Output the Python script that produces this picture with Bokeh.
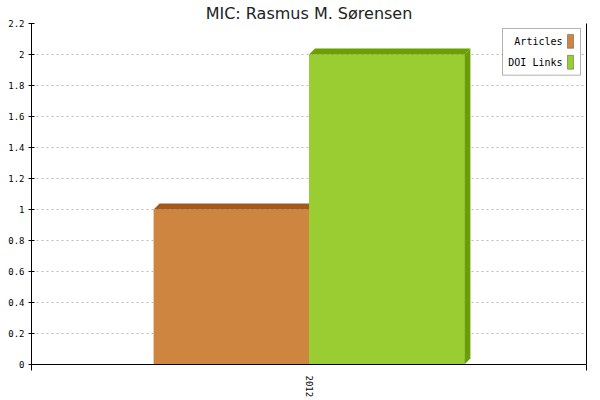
from bokeh.plotting import figure
from bokeh.models import FixedTicker, LinearAxis, Range1d, Label, BoxAnnotation
from bokeh.embed import file_html
from bokeh.resources import INLINE

# ---- data ----
years = ["2012"]
series_names = ["Articles", "DOI Links"]
articles = [1]
doi_links = [2]
y_ticks = [0, 0.2, 0.4, 0.6, 0.8, 1, 1.2, 1.4, 1.6, 1.8, 2, 2.2]
y_tick_labels = ["0", "0.2", "0.4", "0.6", "0.8", "1", "1.2", "1.4", "1.6", "1.8", "2", "2.2"]

# ---- style ----
front = ["#CD853F", "#9ACD32"]
dark = ["#A2591A", "#6B9E00"]
MONO = "DejaVu Sans Mono"
bar_w = 0.28
Y_MAX = 2.2
W, H = 600, 400
BL, BR, BB = 31, 14, 35

p = figure(width=W, height=H, output_backend="svg", toolbar_location=None,
           x_range=Range1d(0, len(years)), y_range=Range1d(0, Y_MAX),
           min_border_left=BL, min_border_right=BR, min_border_bottom=BB, min_border_top=0,
           title="MIC: Rasmus M. Sørensen")
p.title.text_font = "DejaVu Sans"
p.title.text_font_size = "16px"
p.title.text_font_style = "normal"
p.title.align = "center"
p.title.text_color = "#222222"
p.title.standoff = 2
p.outline_line_color = None
p.xgrid.visible = False
p.ygrid.grid_line_color = "#bbbbbb"
p.ygrid.grid_line_dash = "2 3"
p.ygrid.ticker = FixedTicker(ticks=y_ticks)

# frame pixel sizes for the 3D depth offset (6px)
frame_w = W - BL - BR
frame_h = 343
dx = 6 / frame_w * len(years)
dy = 6 / frame_h * Y_MAX

series = [articles, doi_links]
offsets = [-bar_w / 2, bar_w / 2]
for si, vals in enumerate(series):
    xc = [i + 0.5 + offsets[si] for i in range(len(years))]
    p.vbar(x=xc, top=vals, width=bar_w, fill_color=front[si], line_color=None)
    tops_x, tops_y, side_x, side_y = [], [], [], []
    for x, v in zip(xc, vals):
        x0, x1 = x - bar_w / 2, x + bar_w / 2
        tops_x.append([x0, x1, x1 + dx, x0 + dx])
        tops_y.append([v, v, v + dy, v + dy])
        side_x.append([x1, x1 + dx, x1 + dx, x1])
        side_y.append([0, dy, v + dy, v])
    p.patches(tops_x, tops_y, fill_color=dark[si], line_color=None)
    p.patches(side_x, side_y, fill_color=dark[si], line_color=None)

# axes
xa = p.xaxis[0]
xa.ticker = FixedTicker(ticks=[i + 0.5 for i in range(len(years))],
                        minor_ticks=list(range(len(years) + 1)))
xa.major_label_overrides = {i + 0.5: y for i, y in enumerate(years)}
xa.major_label_orientation = "vertical"
xa.major_tick_line_color = None
xa.minor_tick_in = 0
xa.minor_tick_out = 6
xa.minor_tick_line_color = "black"
xa.axis_line_color = "black"
xa.major_label_text_font = MONO
xa.major_label_text_font_size = "9px"
xa.major_label_text_color = "black"
xa.major_label_standoff = 5

ya = p.yaxis[0]
ya.ticker = FixedTicker(ticks=y_ticks)
ya.major_label_overrides = {t: l for t, l in zip(y_ticks, y_tick_labels)}
ya.major_tick_in = 3
ya.major_tick_out = 3
ya.minor_tick_line_color = None
ya.axis_line_color = "black"
ya.major_label_text_font = MONO
ya.major_label_text_font_size = "9px"
ya.major_label_text_color = "black"
ya.major_label_standoff = 4

ra = LinearAxis(ticker=FixedTicker(ticks=[]), major_tick_line_color=None,
                minor_tick_line_color=None, axis_line_color="black")
p.add_layout(ra, "right")

# manual legend (swatch on the right of the label)
def fx(px):
    return px / frame_w * len(years)

def fy(px):
    return Y_MAX - px / frame_h * Y_MAX

p.add_layout(BoxAnnotation(left=fx(471), right=fx(549), top=fy(5), bottom=fy(52),
                           fill_color="white", fill_alpha=1, line_color="black",
                           line_width=1, level="overlay"))
for i, name in enumerate(series_names):
    top_px = 11 + i * 21
    p.add_layout(BoxAnnotation(left=fx(536), right=fx(542), top=fy(top_px), bottom=fy(top_px + 14),
                               fill_color=front[i], fill_alpha=1, line_color="black",
                               line_width=1, level="overlay"))
    p.add_layout(Label(x=fx(531), y=fy(top_px + 7), text=name, text_align="right",
                       text_baseline="middle", text_font=MONO, text_font_size="10px",
                       text_color="black", level="overlay"))

open("out.html", "w").write(file_html(p, INLINE))
